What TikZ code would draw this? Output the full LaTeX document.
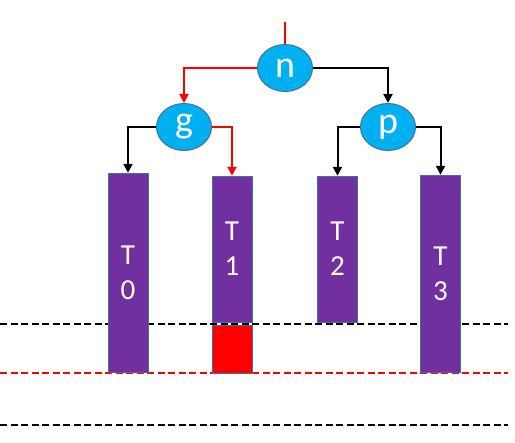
\documentclass[tikz,border=0pt]{standalone}
\usepackage{fontspec}
\setsansfont{Carlito}
\usetikzlibrary{arrows.meta,shapes.geometric}
\definecolor{keyblue}{HTML}{00B0F0}
\definecolor{edgeblue}{HTML}{41719C}
\definecolor{tpurple}{HTML}{7030A0}
\tikzset{
  keynode/.style={ellipse,draw=edgeblue,line width=1pt,fill=keyblue,minimum width=55pt,minimum height=47pt,
    inner sep=0pt,text=white,font=\sffamily\fontsize{38}{38}\selectfont},
  tbar/.style={draw=edgeblue,fill=tpurple,minimum width=40pt,inner sep=0pt,text=white,
    align=center,font=\sffamily\fontsize{29}{35}\selectfont},
  link/.style={line width=2pt,-{Triangle[length=9pt,width=9pt]}},
  level/.style={line width=1.8pt,dash pattern=on 7pt off 3.5pt},
}
\begin{document}
\begin{tikzpicture}[x=1pt,y=-1pt]
\useasboundingbox (0,0) rectangle (515,443);
% levels
\draw[level] (0,324) -- (508,324);
\draw[level,red] (0,373) -- (508,373);
\draw[level] (0,425) -- (508,425);
% tree
\coordinate (top) at (285,22);
\node[keynode] (n) at (285,68) {n};
\node[keynode] (g) at (184,127) {g};
\node[keynode] (p) at (388,127) {p};
\node[tbar,minimum height=199pt] (t0) at (128,272.5) {T\\0};
\node[tbar,minimum height=146pt] (t1) at (232,249) {T\\1};
\node[tbar,minimum height=146pt] (t2) at (337.5,249) {T\\2};
\node[tbar,minimum height=197pt] (t3) at (440.5,273.5) {T\\3};
\node[draw=edgeblue,fill=red,minimum width=40pt,minimum height=48pt,inner sep=0pt] (blk) at (232,349) {};
\draw[red,line width=2pt] (top) -- (n.north);
\draw[link,red] (n.west) -| (g.north);
\draw[link] (n.east) -| (p.north);
\draw[link] (g.west) -| (t0.north);
\draw[link,red] (g.east) -| (t1.north);
\draw[link] (p.west) -| (t2.north);
\draw[link] (p.east) -| (t3.north);
\end{tikzpicture}
\end{document}
